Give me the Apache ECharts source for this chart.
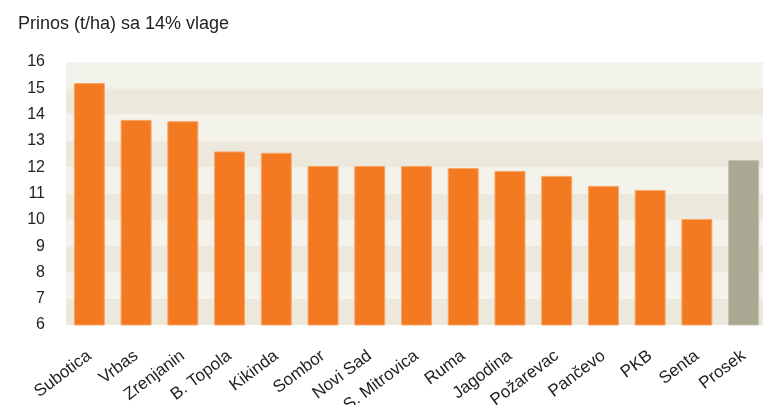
<!DOCTYPE html>
<html lang="sr">
<head>
    <meta charset="UTF-8">
    <title>Prinos</title>
    <script src="https://cdn.jsdelivr.net/npm/echarts@6/dist/echarts.min.js"></script>
</head>
<style>
    body{
        margin: 0;
        background-color: #fff;
    }
    #chart{
        width: 763px;
        height: 405px;
    }
</style>
<body>
    <div id="chart"></div>
    <script>
        var gradovi=['Subotica','Vrbas','Zrenjanin','B. Topola','Kikinda','Sombor','Novi Sad','S. Mitrovica','Ruma','Jagodina','Požarevac','Pančevo','PKB','Senta','Prosek'];
        var prinos=[15.2,13.8,13.75,12.6,12.55,12.05,12.05,12.05,11.97,11.86,11.67,11.29,11.13,10.03,12.27];
        var naslov='Prinos (t/ha) sa 14% vlage';

        var chart=echarts.init(document.getElementById('chart'));
        chart.setOption({
            animation:false,
            title:{
                text:naslov,
                left:13,
                top:10,
                textStyle:{
                    fontFamily:'Liberation Sans',
                    fontSize:18,
                    fontWeight:'normal',
                    color:'#222'
                }
            },
            grid:{
                left:66,
                top:62,
                width:701,
                bottom:80,
                containLabel:false,
                outerBoundsMode:'none'
            },
            xAxis:{
                type:'category',
                data:gradovi,
                axisLine:{show:false},
                axisTick:{show:false},
                axisLabel:{
                    interval:0,
                    rotate:37,
                    margin:29,
                    fontFamily:'Liberation Sans',
                    fontSize:17,
                    color:'#222'
                }
            },
            yAxis:{
                type:'value',
                min:6,
                max:16,
                interval:1,
                axisLine:{show:false},
                axisTick:{show:false},
                splitLine:{show:false},
                splitArea:{
                    show:true,
                    areaStyle:{color:['#ECE9DC','#F4F3EB']}
                },
                axisLabel:{
                    margin:21,
                    padding:[0,0,10,0],
                    fontFamily:'Liberation Sans',
                    fontSize:16,
                    color:'#222'
                }
            },
            series:[{
                type:'bar',
                barWidth:31,
                data:prinos.map(function(v,i){
                    return {
                        value:v,
                        itemStyle:{
                            color:i==prinos.length-1?'#A9A892':'#F47A22',
                            borderColor:i==prinos.length-1?'#C3C2B0':'#F9A76A',
                            borderWidth:1
                        }
                    };
                })
            }]
        });
    </script>
</body>
</html>
